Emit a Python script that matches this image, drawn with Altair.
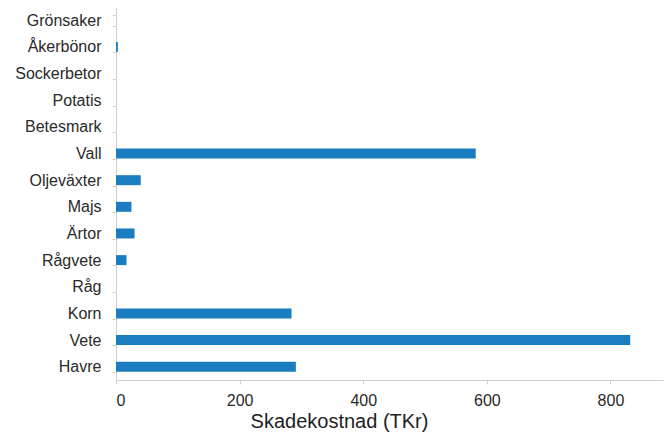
import altair as alt
import pandas as pd

# Crop categories, listed top to bottom
crops = ["Grönsaker", "Åkerbönor", "Sockerbetor", "Potatis", "Betesmark", "Vall",
         "Oljeväxter", "Majs", "Ärtor", "Rågvete", "Råg", "Korn", "Vete", "Havre"]
# Damage cost per crop (TKr)
costs = [0, 3, 0, 0, 0, 582, 40, 25, 30, 17, 0, 284, 832, 291]

df = pd.DataFrame({"Gröda": crops, "Kostnad": costs})

FONT = "Liberation Sans"

chart = (
    alt.Chart(df)
    .mark_bar(color="#1a7dc0", size=10)
    .encode(
        x=alt.X(
            "Kostnad:Q",
            scale=alt.Scale(domain=[0, 885], nice=False, zero=True),
            axis=alt.Axis(
                title="Skadekostnad (TKr)",
                values=[0, 200, 400, 600, 800],
                grid=False,
                domainColor="#cfcfcf",
                tickColor="#cfcfcf",
                tickSize=4,
                labelFont=FONT,
                labelFontSize=16,
                labelColor="#2a2a2a",
                labelPadding=8,
                titleFont=FONT,
                titleFontSize=20,
                titleFontWeight="normal",
                titleColor="#1e1e1e",
                titlePadding=3,
                titleX=223,
                titleAlign="center",
            ),
        ),
        y=alt.Y(
            "Gröda:N",
            sort=crops,
            scale=alt.Scale(paddingInner=0.6, paddingOuter=0.3),
            axis=alt.Axis(
                title=None,
                grid=False,
                tickBand="extent",
                domainColor="#cfcfcf",
                tickColor="#cfcfcf",
                tickSize=4,
                labelFont=FONT,
                labelFontSize=16,
                labelColor="#2a2a2a",
                labelPadding=11,
            ),
        ),
    )
    .properties(
        width=547,
        height=373,
        background="white",
        autosize=alt.AutoSizeParams(type="none"),
        padding={"left": 116, "top": 7, "right": 2, "bottom": 55},
    )
    .configure_view(stroke=None)
)

chart.save("out.html", embed_options={"renderer": "svg", "actions": False})
